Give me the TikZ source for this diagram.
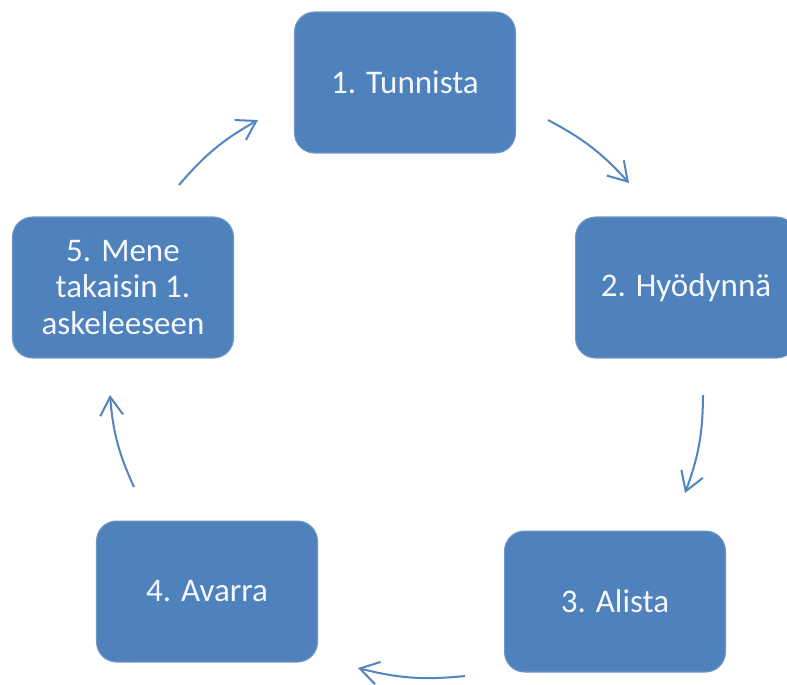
\documentclass[tikz,border=0pt]{standalone}
\usepackage{fontspec}
\setmainfont{Carlito}
\usetikzlibrary{arrows.meta}
\definecolor{boxblue}{HTML}{4F81BD}
\definecolor{arrowblue}{HTML}{5285C1}
\definecolor{boxedge}{HTML}{6F97C8}
\definecolor{boxtext}{HTML}{F4F7FB}
\tikzset{
  stepbox/.style={draw=boxedge, line width=0.6pt, fill=boxblue, rounded corners=0.4cm,
    minimum width=4.42cm, minimum height=2.82cm, inner sep=0pt,
    text=boxtext, align=center, font=\fontsize{18.8}{21}\selectfont},
  cyclearrow/.style={draw=arrowblue, line width=1.15pt,
    -{Straight Barb[length=10.5pt,width=13pt,line width=1.15pt]}, bend left=10}
}
\begin{document}
\begin{tikzpicture}[x=0.02cm,y=0.02cm]
\useasboundingbox (0,0) rectangle (787,-684);
\clip (0,0) rectangle (787,-684);
\node[stepbox] (s1) at (405,-82.5) {1. Tunnista};
\node[stepbox] (s2) at (686,-287.5) {2. Hyödynnä};
\node[stepbox] (s3) at (615,-601.5) {3. Alista};
\node[stepbox] (s4) at (207,-591.5) {4. Avarra};
\node[stepbox] (s5) at (123,-287.5) {5. Mene\\takaisin 1.\\askeleeseen};
\coordinate (a1s) at (548,-120);
\coordinate (a1e) at (629,-183);
\coordinate (a2s) at (703,-395);
\coordinate (a2e) at (685,-493);
\coordinate (a3s) at (465,-676);
\coordinate (a3e) at (358,-668);
\coordinate (a4s) at (134,-487);
\coordinate (a4e) at (110,-395);
\coordinate (a5s) at (179,-185);
\coordinate (a5e) at (258,-120);
\draw[cyclearrow] (a1s) to (a1e);
\draw[cyclearrow] (a2s) to (a2e);
\draw[cyclearrow] (a3s) to (a3e);
\draw[cyclearrow] (a4s) to (a4e);
\draw[cyclearrow] (a5s) to (a5e);
\end{tikzpicture}
\end{document}
